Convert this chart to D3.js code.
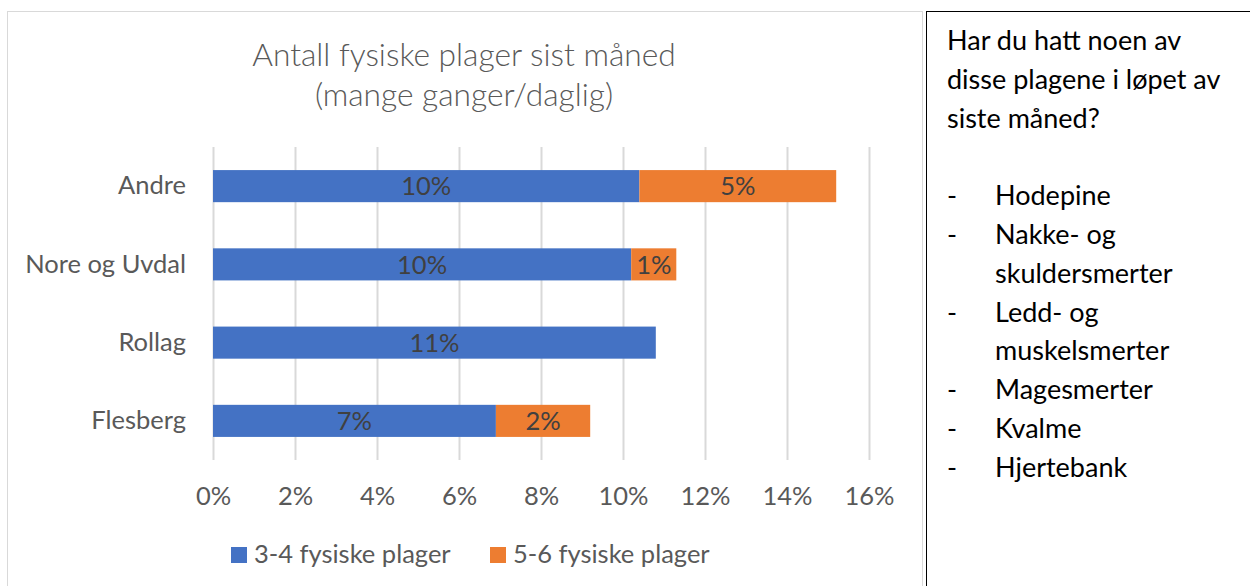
<!DOCTYPE html>
<html>
<head>
<meta charset="utf-8">
<script src="https://cdn.jsdelivr.net/npm/d3@7"></script>
<style>
  body { margin: 0; background: #fff; }
  svg { display: block; }
  text { font-family: Lato, "Noto Sans", sans-serif; }
</style>
</head>
<body>
<div id="chart"></div>
<script>
// data
var categories = ["Andre", "Nore og Uvdal", "Rollag", "Flesberg"];
var seriesNames = ["3-4 fysiske plager", "5-6 fysiske plager"];
var low = [0.104, 0.102, 0.108, 0.069];    // 3-4 fysiske plager
var high = [0.048, 0.011, 0, 0.023];        // 5-6 fysiske plager
var ticks = [0, 0.02, 0.04, 0.06, 0.08, 0.10, 0.12, 0.14, 0.16];
var titleLines = ["Antall fysiske plager sist måned", "(mange ganger/daglig)"];
var noteTitle = ["Har du hatt noen av", "disse plagene i løpet av", "siste måned?"];
var noteItems = [["Hodepine"], ["Nakke- og", "skuldersmerter"], ["Ledd- og", "muskelsmerter"], ["Magesmerter"], ["Kvalme"], ["Hjertebank"]];

var colors = ["#4472c4", "#ed7d31"];
var W = 1250, H = 586;
var fs = "25.5px";

var svg = d3.select("#chart").append("svg")
    .attr("width", W)
    .attr("height", H);

// chart frame
svg.append("rect")
    .attr("x", 7.5).attr("y", 11.5)
    .attr("width", 915).attr("height", 620)
    .attr("fill", "#fff")
    .attr("stroke", "#d9d9d9");

// note frame
svg.append("rect")
    .attr("x", 926.5).attr("y", 11.5)
    .attr("width", 400).attr("height", 620)
    .attr("fill", "#fff")
    .attr("stroke", "#000");

var x = d3.scaleLinear()
    .domain([0, 0.16])
    .range([213, 869]);

var y = d3.scaleBand()
    .domain(categories)
    .range([147, 460])
    .paddingInner(0.59)
    .paddingOuter(0.295);

// Grids //
svg.append("g")
    .attr("transform", "translate(0,460)")
    .attr("class", "xaxis")
    .call(d3.axisBottom(x).tickValues(ticks).tickSize(-313).tickFormat(d3.format(".0%")))
    .call(function(g) {
        g.select(".domain").remove();
        g.selectAll("line").attr("stroke", "#d9d9d9").attr("stroke-width", 2);
        g.selectAll("text")
            .attr("y", 45)
            .attr("dy", 0)
            .attr("fill", "#595959")
            .style("font-size", fs);
    });

// category labels
svg.append("g")
    .attr("transform", "translate(213,0)")
    .call(d3.axisLeft(y).tickSize(0).tickPadding(27))
    .call(function(g) {
        g.select(".domain").remove();
        g.selectAll("text")
            .attr("dy", "0.32em")
            .attr("fill", "#595959")
            .style("font-size", fs);
    });

// stacked bars
var rows = categories.map(function(c, i) {
    return [
        {cat: c, x0: 0, x1: low[i], v: low[i], s: 0},
        {cat: c, x0: low[i], x1: low[i] + high[i], v: high[i], s: 1}
    ];
});
var segs = [].concat.apply([], rows).filter(function(d) { return d.v > 0; });

svg.selectAll("rect.bar")
    .data(segs)
    .enter().append("rect")
    .attr("class", "bar")
    .attr("x", function(d) { return x(d.x0); })
    .attr("y", function(d) { return y(d.cat); })
    .attr("width", function(d) { return x(d.x1) - x(d.x0); })
    .attr("height", y.bandwidth())
    .attr("fill", function(d) { return colors[d.s]; });

svg.selectAll("text.val")
    .data(segs)
    .enter().append("text")
    .attr("class", "val")
    .attr("x", function(d) { return (x(d.x0) + x(d.x1)) / 2; })
    .attr("y", function(d) { return y(d.cat) + y.bandwidth() / 2; })
    .attr("dy", "0.36em")
    .attr("text-anchor", "middle")
    .attr("fill", "#404040")
    .style("font-size", fs)
    .text(function(d) { return d3.format(".0%")(d.v); });

// title
svg.selectAll("text.title")
    .data(titleLines)
    .enter().append("text")
    .attr("class", "title")
    .attr("x", 464)
    .attr("y", function(d, i) { return 66 + i * 40; })
    .attr("text-anchor", "middle")
    .attr("fill", "#595959")
    .style("font-size", "31.7px")
    .style("font-weight", 300)
    .text(function(d) { return d; });

// legend
var legX = [231, 490];
var leg = svg.selectAll("g.leg")
    .data(seriesNames)
    .enter().append("g")
    .attr("class", "leg")
    .attr("transform", function(d, i) { return "translate(" + legX[i] + ",547)"; });
leg.append("rect")
    .attr("width", 16).attr("height", 16)
    .attr("fill", function(d, i) { return colors[i]; });
leg.append("text")
    .attr("x", 23).attr("y", 16)
    .attr("fill", "#595959")
    .style("font-size", fs)
    .text(function(d) { return d; });

// note text
var lineH = 38.8;
var noteFs = "27px";
var note = svg.append("g").attr("class", "note");
noteTitle.forEach(function(t, i) {
    note.append("text")
        .attr("x", 947).attr("y", 50 + i * lineH)
        .attr("fill", "#000")
        .style("font-size", noteFs)
        .text(t);
});
var row = 4;
noteItems.forEach(function(item) {
    note.append("text")
        .attr("x", 947).attr("y", 50 + row * lineH)
        .attr("fill", "#000")
        .style("font-size", noteFs)
        .text("-");
    item.forEach(function(t) {
        note.append("text")
            .attr("x", 995).attr("y", 50 + row * lineH)
            .attr("fill", "#000")
            .style("font-size", noteFs)
            .text(t);
        row++;
    });
});
</script>
</body>
</html>
